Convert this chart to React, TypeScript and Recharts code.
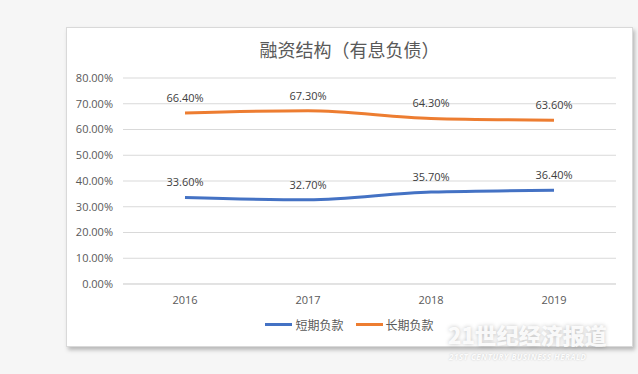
import React from "react";
import { LineChart, Line, XAxis, YAxis, CartesianGrid, LabelList } from "recharts";

const years = ["2016", "2017", "2018", "2019"];
const shortTerm = [33.6, 32.7, 35.7, 36.4];
const longTerm = [66.4, 67.3, 64.3, 63.6];
const yTicks = [0, 10, 20, 30, 40, 50, 60, 70, 80];
const seriesNames = ["短期负款", "长期负款"];
const seriesColors = ["#4472C4", "#ED7D31"];

const data = years.map((y, i) => ({ year: y, short: shortTerm[i], long: longTerm[i] }));

const numFont = "'Open Sans', 'Noto Sans', sans-serif";
const cjkFont = "'Noto Sans CJK SC', sans-serif";

const pct = (v: number) => `${v.toFixed(2)}%`;

export default function App() {
  return (
    <div
      style={{
        position: "absolute",
        left: 0,
        top: 0,
        width: 638,
        height: 374,
        background: "#f6f6f6",
        overflow: "hidden",
      }}
    >
      <div
        style={{
          position: "absolute",
          left: 66,
          top: 27,
          width: 565,
          height: 318,
          background: "#fff",
          border: "1px solid #d9d9d9",
          boxShadow: "2px 3px 4px rgba(0,0,0,0.25)",
        }}
      >
        <div
          style={{
            position: "absolute",
            top: 8,
            left: 0,
            width: "100%",
            textAlign: "center",
            fontFamily: cjkFont,
            fontSize: 18,
            color: "#595959",
          }}
        >
          融资结构（有息负债）
        </div>
        <LineChart
          width={565}
          height={318}
          data={data}
          margin={{ top: 50, right: 16, bottom: 32, left: 0 }}
        >
          <CartesianGrid vertical={false} stroke="#d9d9d9" />
          <XAxis
            dataKey="year"
            tickLine={false}
            axisLine={{ stroke: "#d9d9d9" }}
            tick={{ fill: "#595959", fontSize: 11, fontFamily: numFont }}
            tickMargin={6}
            height={30}
            padding={{ left: 62, right: 62 }}
          />
          <YAxis
            domain={[0, 80]}
            ticks={yTicks}
            tickFormatter={(v) => pct(v)}
            tickLine={false}
            axisLine={false}
            width={56}
            tick={{ fill: "#595959", fontSize: 11, fontFamily: numFont }}
            tickMargin={4}
          />
          <Line
            type="monotone"
            dataKey="short"
            name={seriesNames[0]}
            stroke={seriesColors[0]}
            strokeWidth={3}
            dot={false}
            isAnimationActive={false}
          >
            <LabelList
              dataKey="short"
              position="top"
              offset={11}
              formatter={(v: any) => pct(Number(v))}
              style={{ fill: "#404040", fontSize: 11, fontFamily: numFont }}
            />
          </Line>
          <Line
            type="monotone"
            dataKey="long"
            name={seriesNames[1]}
            stroke={seriesColors[1]}
            strokeWidth={3}
            dot={false}
            isAnimationActive={false}
          >
            <LabelList
              dataKey="long"
              position="top"
              offset={11}
              formatter={(v: any) => pct(Number(v))}
              style={{ fill: "#404040", fontSize: 11, fontFamily: numFont }}
            />
          </Line>
        </LineChart>
        <div
          style={{
            position: "absolute",
            top: 288,
            left: 0,
            width: "100%",
            display: "flex",
            justifyContent: "center",
            gap: 12,
            fontFamily: cjkFont,
            fontSize: 12,
            color: "#595959",
          }}
        >
          {seriesNames.map((n, i) => (
            <div key={n} style={{ display: "flex", alignItems: "center" }}>
              <span
                style={{
                  display: "inline-block",
                  width: 27,
                  height: 3,
                  background: seriesColors[i],
                  marginRight: 3,
                }}
              />
              {n}
            </div>
          ))}
        </div>
      </div>
      <div
        style={{
          position: "absolute",
          left: 448,
          top: 320,
          fontFamily: cjkFont,
          fontWeight: 900,
          fontSize: 22,
          color: "rgba(255,255,255,0.9)",
          textShadow: "0 0 4px rgba(0,0,0,0.25)",
          lineHeight: "28px",
        }}
      >
        21世纪经济报道
      </div>
      <div
        style={{
          position: "absolute",
          left: 449,
          top: 351,
          fontFamily: numFont,
          fontStyle: "italic",
          fontWeight: 700,
          fontSize: 8,
          color: "rgba(255,255,255,0.95)",
          textShadow: "0 0 2px rgba(0,0,0,0.2)",
          letterSpacing: 0.5,
        }}
      >
        21ST CENTURY BUSINESS HERALD
      </div>
    </div>
  );
}
